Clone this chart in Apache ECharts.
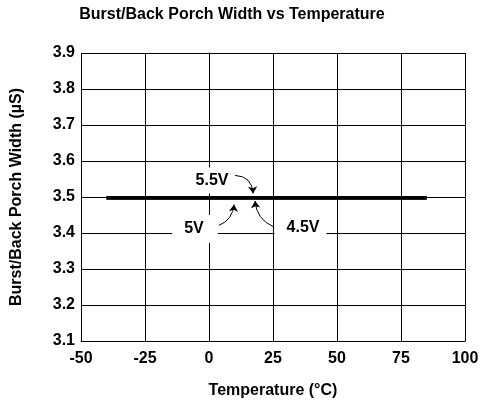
<!DOCTYPE html>
<html>
<head>
<meta charset="utf-8">
<script src="https://cdn.jsdelivr.net/npm/echarts@6/dist/echarts.min.js"></script>
<style>
  html, body { margin: 0; padding: 0; background: #fff; }
  #main { width: 483px; height: 400px; }
</style>
</head>
<body>
<div id="main"></div>
<script>
// 数据
var temps = [-40, -25, 0, 25, 50, 75, 85];
var width55 = [3.498, 3.498, 3.498, 3.498, 3.498, 3.498, 3.498];
var width50 = [3.498, 3.498, 3.498, 3.498, 3.498, 3.498, 3.498];
var width45 = [3.498, 3.498, 3.498, 3.498, 3.498, 3.498, 3.498];
var xTicks = [-50, -25, 0, 25, 50, 75, 100];
var yTicks = [3.1, 3.2, 3.3, 3.4, 3.5, 3.6, 3.7, 3.8, 3.9];

// 标注文字 (数据坐标)
var noteNames = ['5.5V', '5V', '4.5V'];
var noteAt = [[1.17, 3.546], [-5.47, 3.411], [35.74, 3.414]];
// 箭头起止点 + 弯曲度
var arrowFrom = [[10.2, 3.560], [3.9, 3.421], [25, 3.418]];
var arrowTo = [[17.2, 3.510], [9.8, 3.479], [18, 3.489]];
var arrowCurve = [0.45, -0.3, 0.3];
var notePad = [[0, 5, 10, 5], [6, 14, 6, 12], [6, 7, 6, 12]];

var font = 'Liberation Sans, Arial, sans-serif';
var txt = { fontFamily: font, fontWeight: 'bold', fontSize: 16, color: '#000' };

function pairs(ys) {
  return temps.map(function (t, i) { return [t, ys[i]]; });
}

var myChart = echarts.init(document.getElementById('main'));

var lineStyle = { color: '#000', width: 3.5 };

option = {
  animation: false,
  title: {
    text: 'Burst/Back Porch Width vs Temperature',
    left: 232,
    top: 7,
    padding: 0,
    textAlign: 'center',
    textStyle: txt
  },
  grid: { left: 81, right: 18, top: 53, bottom: 59, containLabel: false, outerBoundsMode: 'none' },
  xAxis: {
    type: 'value',
    min: xTicks[0],
    max: xTicks[xTicks.length - 1],
    interval: 25,
    name: 'Temperature (°C)',
    nameLocation: 'middle',
    nameGap: 42,
    nameTextStyle: txt,
    axisLine: { show: true, lineStyle: { color: '#000', width: 1 } },
    axisTick: { show: false },
    axisLabel: Object.assign({ margin: 10 }, txt),
    splitLine: { show: true, lineStyle: { color: '#000', width: 1 } }
  },
  yAxis: {
    type: 'value',
    min: yTicks[0],
    max: yTicks[yTicks.length - 1],
    interval: 0.1,
    name: 'Burst/Back Porch Width (µS)',
    nameLocation: 'middle',
    nameGap: 56,
    nameTextStyle: txt,
    axisLine: { show: true, lineStyle: { color: '#000', width: 1 } },
    axisTick: { show: false },
    axisLabel: Object.assign({
      margin: 6,
      formatter: function (v) { return v.toFixed(1); }
    }, txt),
    splitLine: { show: true, lineStyle: { color: '#000', width: 1 } }
  },
  series: [{
    name: '5.5V',
    type: 'line',
    data: pairs(width55),
    symbol: 'none',
    lineStyle: lineStyle,
    z: 5,
    markPoint: {
      symbol: 'rect',
      symbolSize: 1,
      itemStyle: { color: 'rgba(0,0,0,0)' },
      label: Object.assign({
        show: true,
        position: 'inside',
        formatter: '{b}',
        backgroundColor: '#fff'
      }, txt),
      data: noteNames.map(function (n, i) {
        return { name: n, coord: noteAt[i], label: { padding: notePad[i] } };
      })
    }
  }, {
    name: '5V',
    type: 'line',
    data: pairs(width50),
    symbol: 'none',
    lineStyle: lineStyle,
    z: 5
  }, {
    name: '4.5V',
    type: 'line',
    data: pairs(width45),
    symbol: 'none',
    lineStyle: lineStyle,
    z: 5
  }, {
    name: 'arrows',
    type: 'lines',
    coordinateSystem: 'cartesian2d',
    symbol: ['none', 'arrow'],
    symbolSize: 7,
    silent: true,
    z: 6,
    lineStyle: { color: '#000', width: 1, opacity: 1 },
    data: noteNames.map(function (n, i) {
      return {
        coords: [arrowFrom[i], arrowTo[i]],
        lineStyle: { curveness: arrowCurve[i] }
      };
    })
  }]
};
myChart.setOption(option);
</script>
</body>
</html>
